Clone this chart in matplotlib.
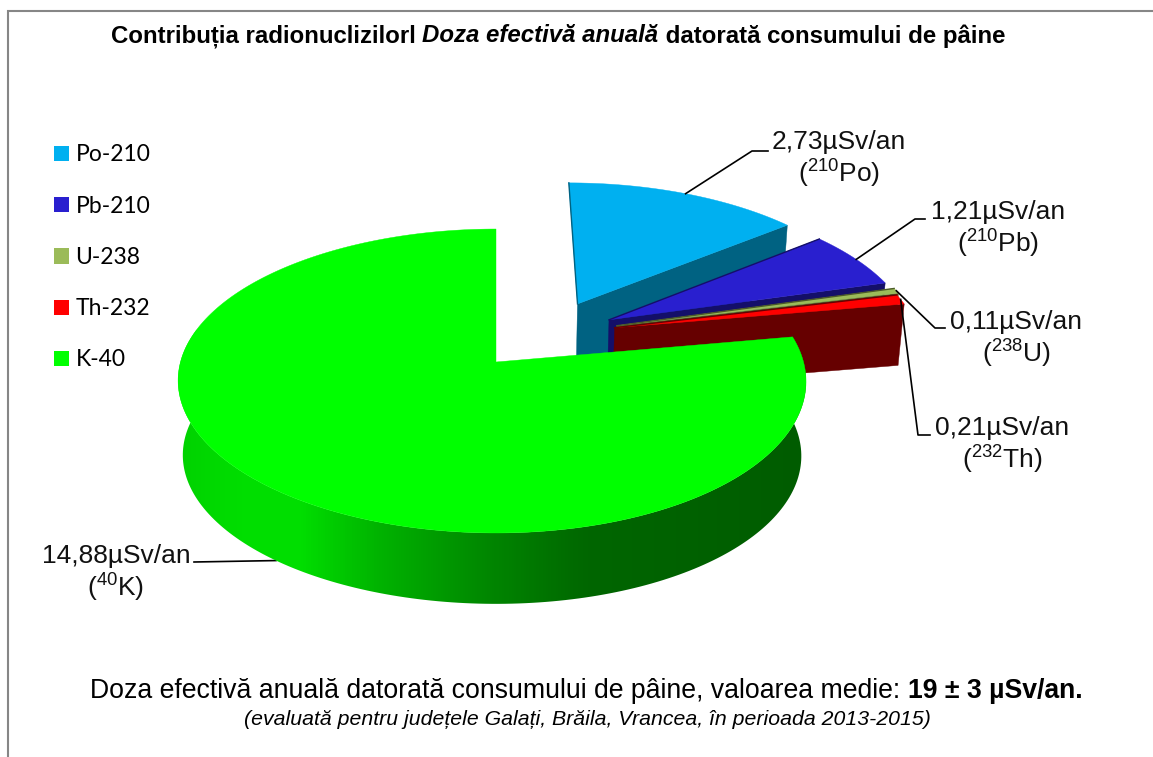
#!/usr/bin/env python3

import numpy as np
import matplotlib
matplotlib.use('Agg')
import matplotlib.pyplot as plt
from matplotlib.colors import LinearSegmentedColormap
from matplotlib.patches import Patch, Polygon

plt.rcParams['font.family'] = ['Liberation Sans', 'DejaVu Sans']
plt.rcParams['mathtext.fontset'] = 'custom'
plt.rcParams['mathtext.rm'] = 'Liberation Sans'
plt.rcParams['mathtext.default'] = 'regular'

names = ['Po-210', 'Pb-210', 'U-238', 'Th-232', 'K-40']
values = [2.73, 1.21, 0.11, 0.21, 14.88]
value_labels = ['2,73µSv/an', '1,21µSv/an', '0,11µSv/an', '0,21µSv/an', '14,88µSv/an']
isotopes = ['($^{210}$Po)', '($^{210}$Pb)', '($^{238}$U)', '($^{232}$Th)', '($^{40}$K)']
top_colors = ['#00B0F0', '#291FCF', '#9BBB59', '#FF0000', '#00FF00']
side_colors = ['#006282', '#140F69', '#4B5A28', '#660000', '#005C00']

# slice pull-out in disc units
explode_x = [0.275, 0.376, 0.40, 0.392, 0.0]
explode_y = [0.408, 0.292, 0.25, 0.236, 0.0]

# label centres and leader elbows, in pixels
label_pos = [(839, 160), (998, 230), (1016, 340), (1002, 446), (116, 574)]
elbows = [[(752, 151), (768, 151)], [(915, 219), (925, 219)], [(935, 328), (945, 328)],
          [(918, 435), (930, 435)], [(194, 562)]]

CX, CY = 496, 362
RX, RY, PERSP = 311.5, 149.6, 0.125
BOTTOM_CY, BOTTOM_RY, BOTTOM_SCALE = 437, 146, 0.985
PULLED_LIFT = 15   # pulled slices have a lower wall than the big one
BIG_SHIFT = 4      # big slice leans a little to the left


def project(x, y, bottom=False, lift=0, shift=0):
    div = 1 + PERSP * y
    off = shift * (1 - y ** 2)
    if bottom:
        return CX - off + BOTTOM_SCALE * RX * x / div, BOTTOM_CY - lift - BOTTOM_RY * y / div
    return CX - off + RX * x / div, CY - RY * y / div


def arc(a0, a1, n, dx=0, dy=0, bottom=False, lift=0, shift=0):
    t = np.radians(np.linspace(a0, a1, n))
    return np.column_stack(project(dx + np.sin(t), dy + np.cos(t), bottom, lift, shift))


def draw_runs(ax, x, y, runs, size):
    rend = ax.figure.canvas.get_renderer()
    for text, weight, style in runs:
        t = ax.text(x, y, text, fontsize=size, fontweight=weight, fontstyle=style, va='baseline', ha='left')
        x = t.get_window_extent(rend).x1


fig = plt.figure(figsize=(11.53, 7.57), dpi=100)
ax = fig.add_axes([0, 0, 1, 1])
ax.set_xlim(0, 1153)
ax.set_ylim(757, 0)
ax.axis('off')

# frame of the original figure
ax.plot([8, 8, 1153], [757, 11, 11], color='#868686', linewidth=1.5, solid_joinstyle='miter')

angles = np.cumsum([0] + values) / sum(values) * 360

# pulled out slices, back to front. only the cut face at the end angle shows
for i in range(4):
    a0, a1 = angles[i], angles[i + 1]
    dx, dy = explode_x[i], explode_y[i]
    top = arc(a0, a1, 40, dx, dy)
    bot = arc(a0, a1, 40, dx, dy, True, PULLED_LIFT)
    apex_t = project(dx, dy)
    apex_b = project(dx, dy, True, PULLED_LIFT)
    ax.plot([top[0, 0], apex_t[0]], [top[0, 1], apex_t[1]], color=side_colors[i], linewidth=1.0)
    ax.fill([apex_t[0], top[-1, 0], bot[-1, 0], apex_b[0]], [apex_t[1], top[-1, 1], bot[-1, 1], apex_b[1]],
            color=side_colors[i], linewidth=0.3)
    ax.fill(np.r_[apex_t[0], top[:, 0]], np.r_[apex_t[1], top[:, 1]], color=top_colors[i], linewidth=0.3)

# leaders go under the big slice
for i in range(5):
    t = np.radians((angles[i] + angles[i + 1]) / 2)
    start = project(explode_x[i] + np.sin(t), explode_y[i] + np.cos(t), i == 4, 0, BIG_SHIFT if i == 4 else 0)
    pts = [start] + elbows[i]
    ax.plot([p[0] for p in pts], [p[1] for p in pts], color='black', linewidth=1.2, zorder=2.5)

# big slice: shaded wall and top
a0, a1 = angles[4], angles[5]
top = arc(a0, a1, 240, shift=BIG_SHIFT)
bot = arc(a0, 300, 200, bottom=True, shift=BIG_SHIFT)
top_wall = arc(a0, 300, 200, shift=BIG_SHIFT)
stops = [(178, (0, 210, 0)), (240, (0, 222, 0)), (300, (0, 222, 0)), (380, (0, 178, 0)), (486, (0, 135, 0)),
         (590, (0, 102, 0)), (806, (0, 92, 0))]
cmap = LinearSegmentedColormap.from_list('wall', [((x - 178) / 628, np.array(c) / 255) for x, c in stops])
im = ax.imshow(np.linspace(0, 1, 628)[None, :], cmap=cmap, extent=(178, 806, 610, 330), aspect='auto', zorder=3)
wall = Polygon(np.r_[top_wall, bot[::-1]], closed=True, transform=ax.transData, facecolor='none', edgecolor='none')
ax.add_patch(wall)
im.set_clip_path(wall)
ax.set_xlim(0, 1153)
ax.set_ylim(757, 0)
ax.fill(np.r_[CX, top[:, 0]], np.r_[CY, top[:, 1]], color=top_colors[4], linewidth=0.3, zorder=4)

for i in range(5):
    ax.text(label_pos[i][0], label_pos[i][1], value_labels[i] + '\n' + isotopes[i], fontsize=19, ha='center',
            va='center', linespacing=1.12, color='#111111', zorder=5)

handles = [Patch(facecolor=c, edgecolor='none', label=n) for c, n in zip(top_colors, names)]
ax.legend(handles=handles, loc='upper left', bbox_to_anchor=(43, 133), bbox_transform=ax.transData, frameon=False,
          prop={'family': 'Lato', 'size': 16.5}, handlelength=0.65, handleheight=0.65, handletextpad=0.27,
          labelspacing=1.32, borderpad=0.5, borderaxespad=0)

fig.canvas.draw()
draw_runs(ax, 111, 42.5, [('Contribuția radionuclizilorl ', 'bold', 'normal'),
                          ('Doza efectivă anuală', 'bold', 'italic'),
                          (' datorată consumului de pâine', 'bold', 'normal')], 17.27)
draw_runs(ax, 90, 698, [('Doza efectivă anuală datorată consumului de pâine, valoarea medie: ', 'normal', 'normal'),
                        ('19 ± 3 µSv/an.', 'bold', 'normal')], 19.2)
ax.text(587.5, 725, '(evaluată pentru județele Galați, Brăila, Vrancea, în perioada 2013-2015)', fontsize=15.3,
        fontstyle='italic', ha='center', va='baseline')

plt.savefig('out.png', dpi=100)
